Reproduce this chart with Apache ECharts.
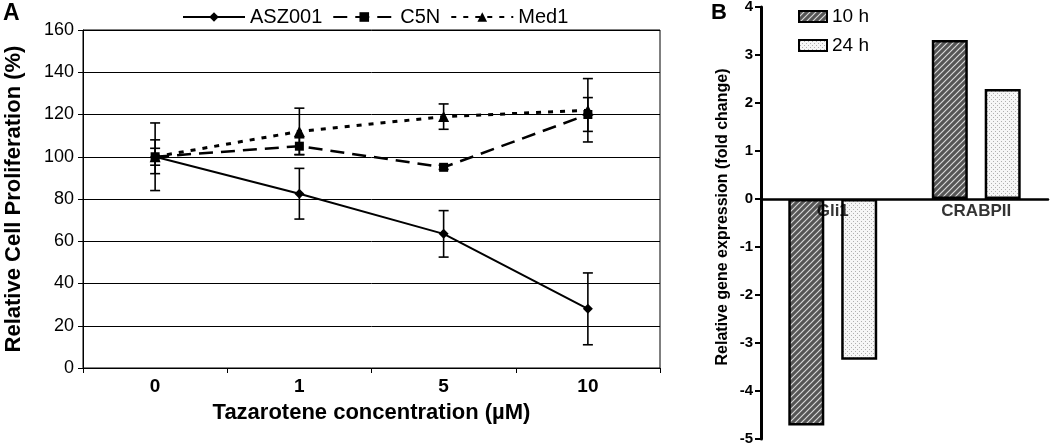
<!DOCTYPE html>
<html><head><meta charset="utf-8">
<script src="https://cdn.jsdelivr.net/npm/echarts@6/dist/echarts.min.js"></script>
<style>html,body{margin:0;padding:0;background:#fff}#c{width:1050px;height:445px}</style>
</head><body><div id="c"></div>
<script>
// Panel A data
const concLabels = ['0', '1', '5', '10'];
const asz001 = [100, 82.5, 63.5, 28];
const asz001Err = [16, 12, 11, 17];
const c5n = [100, 105, 95, 120];
const c5nErr = [4, 4, 1, 8];
const med1 = [100, 112, 119, 122];
const med1Err = [8, 11, 6, 15];
// Panel B data
const genes = ['Gli1', 'CRABPII'];
const h10 = [-4.72, 3.31];
const h24 = [-3.35, 2.29];

const FONT = '"Liberation Sans", Arial, sans-serif';

function hatchPattern() {
  const c = document.createElement('canvas'); c.width = 6; c.height = 6;
  const g = c.getContext('2d');
  g.fillStyle = '#555'; g.fillRect(0, 0, 6, 6);
  g.strokeStyle = '#d8d8d8'; g.lineWidth = 1.2;
  g.beginPath();
  g.moveTo(0, 6); g.lineTo(6, 0);
  g.moveTo(-3, 3); g.lineTo(3, -3);
  g.moveTo(3, 9); g.lineTo(9, 3);
  g.stroke();
  return c;
}
function dotPattern() {
  const c = document.createElement('canvas'); c.width = 4; c.height = 4;
  const g = c.getContext('2d');
  g.fillStyle = '#f6f6f6'; g.fillRect(0, 0, 4, 4);
  g.fillStyle = '#b0b0b0'; g.fillRect(1, 1, 1, 1); g.fillRect(3, 3, 1, 1);
  return c;
}

function errSeries(name, vals, errs) {
  return {
    type: 'custom', name: name + ' err', xAxisIndex: 0, yAxisIndex: 0, z: 5,
    data: vals.map((v, i) => [i, v - errs[i], v + errs[i]]),
    renderItem: function (params, api) {
      const lo = api.coord([api.value(0), api.value(1)]);
      const hi = api.coord([api.value(0), api.value(2)]);
      const w = 5;
      const st = { stroke: '#000', lineWidth: 1.6 };
      return { type: 'group', children: [
        { type: 'line', shape: { x1: lo[0], y1: lo[1], x2: hi[0], y2: hi[1] }, style: st },
        { type: 'line', shape: { x1: lo[0] - w, y1: lo[1], x2: lo[0] + w, y2: lo[1] }, style: st },
        { type: 'line', shape: { x1: hi[0] - w, y1: hi[1], x2: hi[0] + w, y2: hi[1] }, style: st }
      ]};
    }
  };
}

const chart = echarts.init(document.getElementById('c'), null, { renderer: 'canvas' });
const hatch = { image: hatchPattern(), repeat: 'repeat' };
const dots = { image: dotPattern(), repeat: 'repeat' };

chart.setOption({
  animation: false,
  textStyle: { fontFamily: FONT, color: '#000' },
  grid: [
    { left: 83, right: 390, top: 30, bottom: 77, show: true, borderColor: '#000', borderWidth: 1,
      backgroundColor: 'transparent', containLabel: false, outerBoundsMode: 'none' },
    { left: 761, right: 2, top: 7, bottom: 6, containLabel: false, outerBoundsMode: 'none' }
  ],
  legend: [
    { left: 177, top: 2, itemWidth: 62, itemHeight: 12, itemGap: 10,
      data: ['ASZ001', 'C5N', 'Med1'],
      textStyle: { fontSize: 20, color: '#000', fontFamily: FONT } },
    { left: 793, top: 2, orient: 'vertical', itemWidth: 28, itemHeight: 11, itemGap: 10,
      icon: 'rect', data: ['10 h', '24 h'],
      textStyle: { fontSize: 19, color: '#000', fontFamily: FONT } }
  ],
  xAxis: [
    { type: 'category', gridIndex: 0, data: concLabels, boundaryGap: true,
      axisLine: { lineStyle: { color: '#000', width: 1 } },
      axisTick: { show: true, length: 5, lineStyle: { color: '#000' } },
      axisLabel: { fontSize: 19, fontWeight: 'bold', color: '#000', margin: 9 },
      name: 'Tazarotene concentration (\u00b5M)', nameLocation: 'middle', nameGap: 34,
      nameTextStyle: { fontSize: 22, fontWeight: 'bold', color: '#000' } },
    { type: 'category', gridIndex: 1, data: genes,
      axisLine: { onZero: true, lineStyle: { color: '#000', width: 2.5 } },
      axisTick: { show: false },
      axisLabel: { show: false } }
  ],
  yAxis: [
    { type: 'value', gridIndex: 0, min: 0, max: 160, interval: 20,
      axisLine: { show: true, lineStyle: { color: '#000', width: 1 } },
      axisTick: { show: true, length: 5, lineStyle: { color: '#000' } },
      axisLabel: { fontSize: 18, color: '#000', margin: 9 },
      splitLine: { show: true, lineStyle: { color: '#000', width: 1 } },
      name: 'Relative Cell Proliferation (%)', nameLocation: 'middle', nameGap: 58,
      nameTextStyle: { fontSize: 22, fontWeight: 'bold', color: '#000' } },
    { type: 'value', gridIndex: 1, min: -5, max: 4, interval: 1,
      axisLine: { show: true, lineStyle: { color: '#000', width: 3 } },
      axisTick: { show: true, length: 6, lineStyle: { color: '#000', width: 2 } },
      axisLabel: { fontSize: 15, fontWeight: 'bold', color: '#000', margin: 8 },
      splitLine: { show: false } }
  ],
  graphic: [
    { type: 'text', left: 3, top: 2, style: { text: 'A', font: 'bold 23px ' + FONT, fill: '#000' } },
    { type: 'text', left: 711, top: 2, style: { text: 'B', font: 'bold 22px ' + FONT, fill: '#000' } },
    { type: 'text', x: 723, y: 217, rotation: Math.PI / 2,
      style: { text: 'Relative gene expression (fold change)', font: 'bold 16px ' + FONT, fill: '#000',
        align: 'center', verticalAlign: 'middle' } }
  ],
  series: [
    { type: 'line', name: 'ASZ001', xAxisIndex: 0, yAxisIndex: 0, data: asz001, z: 6,
      symbol: 'diamond', symbolSize: 10,
      lineStyle: { color: '#000', width: 2, type: 'solid' },
      itemStyle: { color: '#000' } },
    { type: 'line', name: 'C5N', xAxisIndex: 0, yAxisIndex: 0, data: c5n, z: 6,
      symbol: 'rect', symbolSize: 9,
      lineStyle: { color: '#000', width: 2.5, type: [14, 8] },
      itemStyle: { color: '#000' } },
    { type: 'line', name: 'Med1', xAxisIndex: 0, yAxisIndex: 0, data: med1, z: 6,
      symbol: 'triangle', symbolSize: 11,
      lineStyle: { color: '#000', width: 3, type: [5, 7] },
      itemStyle: { color: '#000' } },
    errSeries('ASZ001', asz001, asz001Err),
    errSeries('C5N', c5n, c5nErr),
    errSeries('Med1', med1, med1Err),
    { type: 'bar', name: '10 h', xAxisIndex: 1, yAxisIndex: 1, data: h10,
      barWidth: 36, barGap: '47%', barCategoryGap: '38%',
      itemStyle: { color: hatch, borderColor: '#000', borderWidth: 2.5 } },
    { type: 'bar', name: '24 h', xAxisIndex: 1, yAxisIndex: 1, data: h24,
      barWidth: 36, barGap: '47%', barCategoryGap: '38%',
      itemStyle: { color: dots, borderColor: '#000', borderWidth: 2.5 } },
    { type: 'scatter', name: 'gene labels', xAxisIndex: 1, yAxisIndex: 1, z: 10,
      symbolSize: 0, silent: true,
      data: genes.map((g, i) => [i, 0]),
      label: { show: true, position: 'bottom', distance: 4,
        formatter: (p) => genes[p.dataIndex],
        fontSize: 17, fontWeight: 'bold', color: '#000', fontFamily: FONT } }
  ]
});
</script>
</body></html>
